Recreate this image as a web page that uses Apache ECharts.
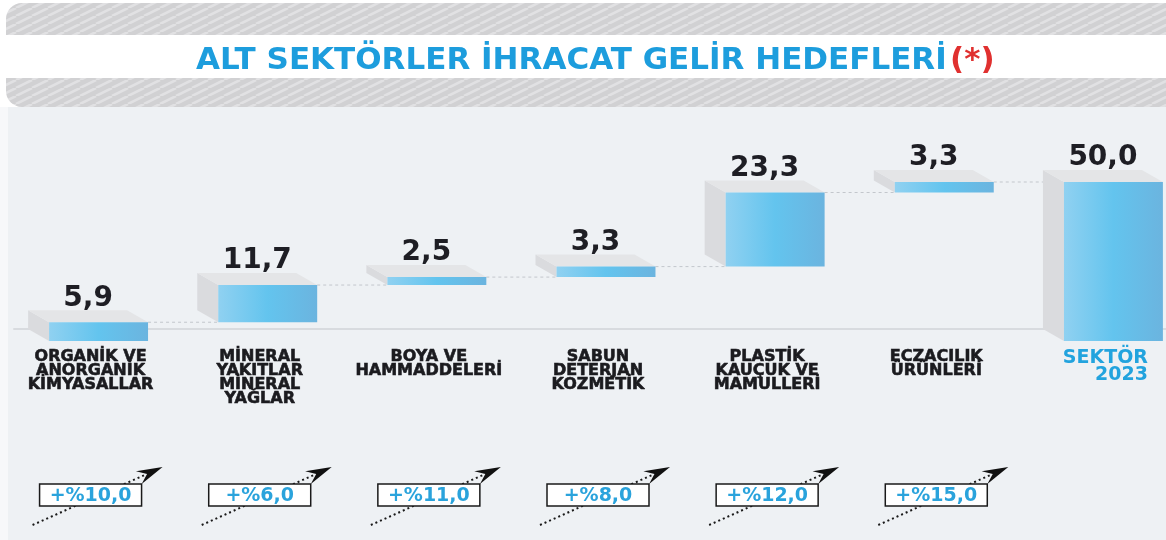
<!DOCTYPE html>
<html><head><meta charset="utf-8">
<script src="https://cdn.jsdelivr.net/npm/echarts@6/dist/echarts.min.js"></script>
<style>html,body{margin:0;padding:0;background:#fff}#c{width:1166px;height:540px}</style>
</head><body><div id="c"></div>
<script>
// ---- data ----
const titleText = 'ALT SEKTÖRLER İHRACAT GELİR HEDEFLERİ';
const titleNote = '(*)';
const categories = [
  'ORGANİK VE\nANORGANİK\nKİMYASALLAR',
  'MİNERAL\nYAKITLAR\nMİNERAL\nYAĞLAR',
  'BOYA VE\nHAMMADDELERİ',
  'SABUN\nDETERJAN\nKOZMETİK',
  'PLASTİK\nKAUÇUK VE\nMAMULLERİ',
  'ECZACILIK\nÜRÜNLERİ',
  'SEKTÖR\n2023'
];
const incomeTargets = [5.9, 11.7, 2.5, 3.3, 23.3, 3.3];
const sectorTotal = 50.0;
const growthRates = [10.0, 6.0, 11.0, 8.0, 12.0, 15.0];

// ---- build ----
const fmt = v => v.toFixed(1).replace('.', ',');
const N = categories.length;
const barData = [];
let cum = 0;
incomeTargets.forEach((v, i) => { barData.push([i, cum, cum + v, v]); cum += v; });
barData.push([N - 1, 0, sectorTotal, sectorTotal]);
const badgeData = growthRates.map((g, i) => [i, 0.5, g]);

const DX = -21, DY = -12;
const BLUE = '#22a3de';

function frontGradient() {
  return new echarts.graphic.LinearGradient(0, 0, 1, 0, [
    { offset: 0, color: '#90d1f1' },
    { offset: 0.5, color: '#63c4ee' },
    { offset: 1, color: '#6bb4df' }
  ]);
}

function renderBar(params, api) {
  const i = api.value(0);
  const lo = api.coord([i, api.value(1)]);
  const hi = api.coord([i, api.value(2)]);
  const w = api.size([1, 0])[0] * 0.585;
  const x0 = lo[0] - w / 2, x1 = lo[0] + w / 2, yB = lo[1], yT = hi[1];
  const kids = [];
  if (params.dataIndex < barData.length - 1) {
    const nx = api.coord([i + 1, api.value(2)]);
    kids.push({ type: 'line', shape: { x1: x1, y1: yT, x2: nx[0] - w / 2, y2: yT },
      style: { stroke: '#c3c7cc', lineWidth: 1, lineDash: [3, 3] } });
  }
  kids.push({ type: 'polygon', shape: { points: [[x0, yT], [x0 + DX, yT + DY], [x0 + DX, yB + DY], [x0, yB]] },
    style: { fill: '#dadbde' } });
  kids.push({ type: 'polygon', shape: { points: [[x0, yT], [x0 + DX, yT + DY], [x1 + DX, yT + DY], [x1, yT]] },
    style: { fill: '#e4e5e7' } });
  kids.push({ type: 'rect', shape: { x: x0, y: yT, width: w, height: yB - yT },
    style: { fill: frontGradient() } });
  kids.push({ type: 'text', style: { text: fmt(api.value(3)), x: (x0 + x1) / 2 + DX / 2, y: yT + DY - 12,
    align: 'center', verticalAlign: 'middle', fontFamily: 'DejaVu Sans', fontWeight: 'bold', fontSize: 28, fill: '#1e1e24' } });
  return { type: 'group', children: kids };
}

function renderBadge(params, api) {
  const c = api.coord([api.value(0), api.value(1)]);
  const cx = c[0] - 8, cy = c[1];
  const sx = cx - 58, sy = cy + 30, tx = cx + 72, ty = cy - 28;
  const dx = tx - sx, dy = ty - sy, L = Math.hypot(dx, dy);
  const ux = dx / L, uy = dy / L, nx = -uy, ny = ux;
  const bx = tx - ux * 24, by = ty - uy * 24;
  return { type: 'group', children: [
    { type: 'line', shape: { x1: sx, y1: sy, x2: bx + ux * 5, y2: by + uy * 5 },
      style: { stroke: '#1a1a1a', lineWidth: 2, lineDash: [2, 3] } },
    { type: 'rect', shape: { x: cx - 51, y: cy - 11, width: 102, height: 22 },
      style: { fill: '#ffffff', stroke: '#1a1a1a', lineWidth: 1.5 } },
    { type: 'text', style: { text: '+%' + fmt(api.value(2)), x: cx, y: cy + 1, align: 'center', verticalAlign: 'middle',
      fontFamily: 'DejaVu Sans', fontWeight: 'bold', fontSize: 19, fill: '#2aa3dc' } },
    { type: 'polygon', shape: { points: [[tx, ty], [bx + nx * 7 - ux * 2, by + ny * 7 - uy * 2], [bx + ux * 7, by + uy * 7], [bx - nx * 7 - ux * 2, by - ny * 7 - uy * 2]] },
      style: { fill: '#111' } }
  ] };
}

function stripeCanvas() {
  const cv = document.createElement('canvas');
  cv.width = 16; cv.height = 8;
  const g = cv.getContext('2d');
  g.fillStyle = '#d1d1d3'; g.fillRect(0, 0, 16, 8);
  g.strokeStyle = '#e1e1e3'; g.lineWidth = 2.6;
  for (let k = -1; k <= 1; k++) {
    g.beginPath(); g.moveTo(k * 16, 8); g.lineTo(k * 16 + 16, 0); g.stroke();
  }
  return cv;
}
const stripes = { image: stripeCanvas(), repeat: 'repeat' };

const chart = echarts.init(document.getElementById('c'));
chart.setOption({
  backgroundColor: '#eef1f4',
  animation: false,
  graphic: [
    { type: 'rect', z: -5, shape: { x: 0, y: 0, width: 1166, height: 107 }, style: { fill: '#ffffff' } },
    { type: 'rect', z: -5, shape: { x: 0, y: 107, width: 8, height: 433 }, style: { fill: '#f7f8fa' } },
    { type: 'rect', z: -4, shape: { x: 6, y: 3, width: 1200, height: 32, r: [16, 0, 0, 0] }, style: { fill: stripes } },
    { type: 'rect', z: -4, shape: { x: 6, y: 78, width: 1200, height: 29, r: [0, 0, 0, 16] }, style: { fill: stripes } },
    { type: 'text', z: 5, x: 196, y: 61, style: {
      text: '{a|' + titleText + '} {b|' + titleNote + '}', verticalAlign: 'middle',
      rich: {
        a: { fontFamily: 'DejaVu Sans', fontWeight: 'bold', fontSize: 31, fill: '#1d9ddd', color: '#1d9ddd' },
        b: { fontFamily: 'DejaVu Sans', fontWeight: 'bold', fontSize: 31, fill: '#e0302f', color: '#e0302f' }
      } } }
  ],
  grid: [
    { left: 14, width: 1184, top: 182, bottom: 199, outerBoundsMode: 'none' },
    { left: 14, width: 1184, top: 455, height: 80, outerBoundsMode: 'none' }
  ],
  xAxis: [
    { type: 'category', gridIndex: 0, data: categories, offset: -12,
      axisLine: { lineStyle: { color: '#d8dbdf', width: 2 } }, axisTick: { show: false },
      axisLabel: { interval: 0, margin: 21, padding: [0, 16, 0, 0], hideOverlap: false,
        fontFamily: 'DejaVu Sans', fontWeight: 'bold', fontSize: 16, lineHeight: 14, color: '#1b1b1f',
        textBorderColor: '#1b1b1f', textBorderWidth: 0.6,
        formatter: (v, idx) => idx === N - 1 ? v.split('\n').map(s => '{t|' + s + '}').join('\n') : v,
        rich: { t: { fontFamily: 'DejaVu Sans', fontWeight: 'bold', fontSize: 19, lineHeight: 17, color: BLUE, align: 'right', textBorderWidth: 0 } } } },
    { type: 'category', gridIndex: 1, data: categories, show: false }
  ],
  yAxis: [
    { type: 'value', gridIndex: 0, min: 0, max: 50, show: false },
    { type: 'value', gridIndex: 1, min: 0, max: 1, show: false }
  ],
  series: [
    { type: 'custom', xAxisIndex: 0, yAxisIndex: 0, renderItem: renderBar, data: barData, clip: false },
    { type: 'custom', xAxisIndex: 1, yAxisIndex: 1, renderItem: renderBadge, data: badgeData, clip: false }
  ]
});
</script></body></html>
